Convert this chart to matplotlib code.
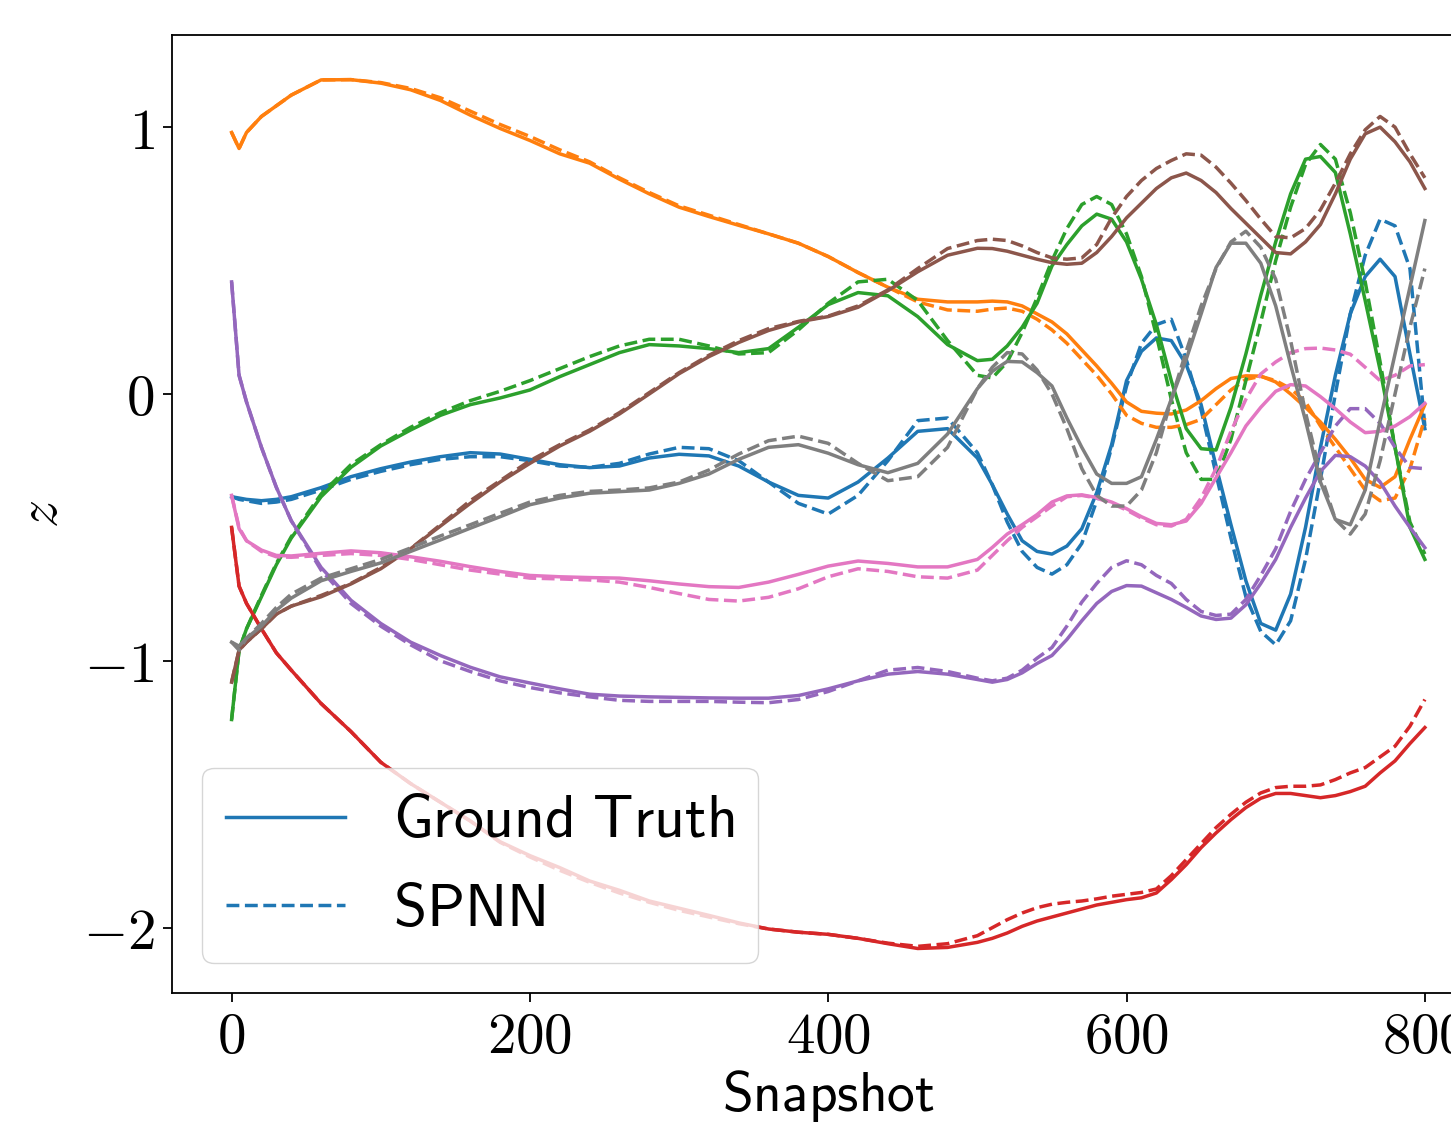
import matplotlib
matplotlib.use('Agg')
import matplotlib.pyplot as plt
from matplotlib.ticker import FuncFormatter

# snapshot index (shared by all curves)
snap = [0, 5, 10, 20, 30, 40, 60, 80, 100, 120, 140, 160, 180, 200, 220, 240, 260, 280,
        300, 320, 340, 360, 380, 400, 420, 440, 460, 480, 500, 510, 520, 530, 540, 550,
        560, 570, 580, 590, 600, 610, 620, 630, 640, 650, 660, 670, 680, 690, 700, 710,
        720, 730, 740, 750, 760, 770, 780, 790, 800]

# ground truth latent coordinates z_0 .. z_7
gt_0 = [-0.385, -0.39, -0.395, -0.40, -0.395, -0.385,
        -0.351, -0.31, -0.28, -0.255, -0.235, -0.22, -0.225, -0.245, -0.265, -0.276, -0.27, -0.24,
        -0.226, -0.232, -0.27, -0.33, -0.38, -0.39, -0.33, -0.24, -0.14, -0.13, -0.24,
        -0.34, -0.45, -0.55, -0.59, -0.60, -0.57, -0.505, -0.37, -0.19, 0.05, 0.16, 0.21, 0.20,
        0.11, -0.04, -0.27, -0.49, -0.70, -0.86, -0.885, -0.75, -0.50, -0.20, 0.07, 0.30, 0.44,
        0.505, 0.44, 0.15, -0.13]
gt_1 = [0.98, 0.92, 0.98, 1.04, 1.08, 1.12,
        1.177, 1.178, 1.165, 1.14, 1.10, 1.045, 0.995, 0.95, 0.90, 0.865, 0.805, 0.75, 0.70,
        0.665, 0.632, 0.60, 0.565, 0.515, 0.455, 0.40, 0.355, 0.345, 0.345,
        0.348, 0.345, 0.33, 0.30, 0.27, 0.225, 0.165, 0.105, 0.04, -0.03, -0.065, -0.072, -0.075,
        -0.06, -0.025, 0.02, 0.058, 0.068, 0.067, 0.045, 0.0, -0.05, -0.105, -0.17, -0.24, -0.32,
        -0.35, -0.31, -0.17, -0.04]
gt_2 = [-1.22, -0.96, -0.88, -0.76, -0.64, -0.54,
        -0.385, -0.275, -0.195, -0.135, -0.08, -0.04, -0.015, 0.015, 0.065, 0.11, 0.155, 0.185,
        0.18, 0.17, 0.155, 0.17, 0.25, 0.335, 0.38, 0.368, 0.29, 0.185, 0.125,
        0.13, 0.18, 0.25, 0.34, 0.48, 0.56, 0.63, 0.674, 0.655, 0.57, 0.43, 0.26, 0.05, -0.13,
        -0.205, -0.21, -0.05, 0.15, 0.37, 0.57, 0.75, 0.88, 0.89, 0.83, 0.60, 0.35, 0.09, -0.2,
        -0.5, -0.62]
gt_3 = [-0.5, -0.72, -0.785, -0.88, -0.97, -1.035,
        -1.16, -1.265, -1.38, -1.46, -1.53, -1.6, -1.678, -1.73, -1.775, -1.825, -1.86, -1.9,
        -1.927, -1.954, -1.982, -2.005, -2.017, -2.025, -2.04, -2.06, -2.078, -2.074, -2.055,
        -2.04, -2.02, -1.995, -1.975, -1.96, -1.945, -1.93, -1.915, -1.905, -1.895, -1.888,
        -1.87, -1.82, -1.764, -1.70, -1.645, -1.595, -1.55, -1.515, -1.497, -1.497, -1.505,
        -1.513, -1.505, -1.49, -1.47, -1.42, -1.375, -1.31, -1.25]
gt_4 = [0.42, 0.07, -0.03, -0.2, -0.35, -0.475,
        -0.65, -0.773, -0.86, -0.93, -0.98, -1.024, -1.06, -1.083, -1.105, -1.125, -1.132,
        -1.135, -1.137, -1.139, -1.14, -1.14, -1.13, -1.105, -1.075, -1.05, -1.04, -1.05, -1.07,
        -1.08, -1.07, -1.045, -1.01, -0.98, -0.92, -0.85, -0.785, -0.74, -0.718, -0.72, -0.745,
        -0.77, -0.8, -0.832, -0.845, -0.84, -0.79, -0.71, -0.62, -0.5, -0.39, -0.29, -0.23,
        -0.235, -0.27, -0.33, -0.42, -0.5, -0.576]
gt_5 = [-1.08, -0.96, -0.93, -0.88, -0.825, -0.795,
        -0.76, -0.712, -0.655, -0.58, -0.495, -0.41, -0.33, -0.26, -0.195, -0.14, -0.075, 0.0,
        0.076, 0.14, 0.193, 0.238, 0.27, 0.29, 0.325, 0.387, 0.458, 0.52, 0.546,
        0.545, 0.535, 0.52, 0.505, 0.492, 0.486, 0.49, 0.53, 0.59, 0.66, 0.715, 0.77, 0.81,
        0.828, 0.80, 0.755, 0.695, 0.64, 0.585, 0.53, 0.525, 0.57, 0.635, 0.75, 0.88, 0.975,
        1.0, 0.945, 0.87, 0.77]
gt_6 = [-0.38, -0.505, -0.55, -0.585, -0.605, -0.607,
        -0.597, -0.588, -0.595, -0.61, -0.627, -0.647, -0.665, -0.68, -0.685, -0.688, -0.69,
        -0.70, -0.712, -0.722, -0.725, -0.705, -0.676, -0.645, -0.626, -0.635, -0.648, -0.648,
        -0.62,
        -0.575, -0.525, -0.49, -0.452, -0.405, -0.382, -0.378, -0.388, -0.405, -0.43, -0.46,
        -0.485, -0.49, -0.476, -0.41, -0.314, -0.22, -0.12, -0.05, 0.01, 0.035, 0.03, -0.01,
        -0.055, -0.105, -0.145, -0.14, -0.12, -0.085, -0.035]
gt_7 = [-0.93, -0.945, -0.915, -0.87, -0.81, -0.765,
        -0.70, -0.665, -0.633, -0.59, -0.547, -0.503, -0.46, -0.415, -0.39, -0.372, -0.366,
        -0.36, -0.335, -0.30, -0.245, -0.20, -0.19, -0.222, -0.265, -0.295, -0.26, -0.15, 0.02,
        0.085, 0.122, 0.12, 0.08, 0.03, -0.09, -0.2, -0.3, -0.335, -0.335, -0.31, -0.17, -0.02,
        0.13, 0.3, 0.474, 0.565, 0.565, 0.49, 0.33, 0.11, -0.1, -0.33, -0.47, -0.49, -0.36,
        -0.1, 0.15, 0.4, 0.65]

# SPNN predictions
nn_0 = [-0.385, -0.395, -0.40, -0.41, -0.405, -0.395,
        -0.36, -0.32, -0.29, -0.265, -0.245, -0.235, -0.235, -0.25, -0.27, -0.275, -0.26,
        -0.225, -0.20, -0.205, -0.25, -0.33, -0.41, -0.45, -0.38, -0.25, -0.10, -0.09, -0.22,
        -0.34, -0.48, -0.59, -0.65, -0.675, -0.64, -0.56, -0.40, -0.20, 0.03, 0.19, 0.26, 0.28,
        0.13, -0.06, -0.30, -0.54, -0.76, -0.89, -0.94, -0.85, -0.62, -0.32, 0.0, 0.30, 0.52,
        0.655, 0.63, 0.47, -0.12]
nn_1 = [0.98, 0.92, 0.98, 1.04, 1.08, 1.12,
        1.177, 1.178, 1.167, 1.145, 1.11, 1.06, 1.01, 0.965, 0.915, 0.87, 0.81, 0.755, 0.705,
        0.67, 0.635, 0.60, 0.565, 0.515, 0.455, 0.40, 0.345, 0.315, 0.31,
        0.318, 0.322, 0.31, 0.28, 0.24, 0.19, 0.13, 0.07, 0.0, -0.08, -0.11, -0.125, -0.125,
        -0.115, -0.095, -0.04, 0.015, 0.055, 0.066, 0.05, 0.02, -0.03, -0.12, -0.2, -0.28,
        -0.36, -0.40, -0.39, -0.28, -0.09]
nn_2 = [-1.22, -0.96, -0.88, -0.755, -0.635, -0.535,
        -0.375, -0.265, -0.19, -0.125, -0.07, -0.025, 0.01, 0.05, 0.095, 0.14, 0.18, 0.205,
        0.205, 0.18, 0.15, 0.155, 0.24, 0.34, 0.42, 0.43, 0.35, 0.20, 0.07,
        0.06, 0.12, 0.23, 0.36, 0.50, 0.62, 0.71, 0.74, 0.71, 0.60, 0.44, 0.22, -0.02, -0.22,
        -0.32, -0.32, -0.17, 0.05, 0.27, 0.50, 0.70, 0.86, 0.935, 0.88, 0.68, 0.42, 0.12, -0.2,
        -0.48, -0.6]
nn_3 = [-0.5, -0.72, -0.785, -0.88, -0.97, -1.035,
        -1.16, -1.265, -1.38, -1.46, -1.53, -1.6, -1.68, -1.735, -1.785, -1.83, -1.87, -1.905,
        -1.935, -1.96, -1.985, -2.005, -2.017, -2.025, -2.04, -2.058, -2.07, -2.06, -2.03,
        -2.0, -1.97, -1.945, -1.925, -1.912, -1.905, -1.9, -1.892, -1.882, -1.875, -1.868,
        -1.855, -1.805, -1.745, -1.685, -1.625, -1.575, -1.53, -1.495, -1.475, -1.47, -1.47,
        -1.465, -1.445, -1.42, -1.4, -1.36, -1.32, -1.245, -1.145]
nn_4 = [0.42, 0.07, -0.03, -0.2, -0.35, -0.475,
        -0.66, -0.785, -0.87, -0.94, -1.0, -1.04, -1.075, -1.1, -1.12, -1.135, -1.148, -1.152,
        -1.152, -1.152, -1.155, -1.157, -1.145, -1.115, -1.075, -1.035, -1.025, -1.04, -1.065,
        -1.075, -1.065, -1.035, -0.99, -0.95, -0.87, -0.78, -0.71, -0.65, -0.625, -0.64, -0.68,
        -0.71, -0.77, -0.815, -0.83, -0.825, -0.77, -0.68, -0.58, -0.44, -0.32, -0.22, -0.12,
        -0.055, -0.055, -0.11, -0.2, -0.275, -0.28]
nn_5 = [-1.08, -0.96, -0.93, -0.88, -0.825, -0.795,
        -0.755, -0.71, -0.65, -0.58, -0.49, -0.40, -0.325, -0.25, -0.19, -0.135, -0.07, 0.005,
        0.08, 0.145, 0.2, 0.245, 0.272, 0.292, 0.33, 0.39, 0.47, 0.545, 0.575,
        0.58, 0.575, 0.555, 0.53, 0.51, 0.505, 0.51, 0.56, 0.66, 0.74, 0.80, 0.845, 0.875, 0.9,
        0.895, 0.85, 0.79, 0.725, 0.655, 0.59, 0.585, 0.62, 0.69, 0.79, 0.9, 0.99, 1.04, 1.0,
        0.9, 0.81]
nn_6 = [-0.38, -0.5, -0.55, -0.59, -0.61, -0.612,
        -0.605, -0.598, -0.605, -0.62, -0.64, -0.66, -0.675, -0.69, -0.693, -0.697, -0.705,
        -0.725, -0.748, -0.77, -0.776, -0.762, -0.73, -0.685, -0.655, -0.665, -0.685, -0.69,
        -0.66,
        -0.605, -0.55, -0.5, -0.46, -0.42, -0.385, -0.38, -0.39, -0.41, -0.435, -0.465, -0.49,
        -0.495, -0.47, -0.39, -0.28, -0.14, -0.02, 0.075, 0.12, 0.155, 0.17, 0.172, 0.165,
        0.149, 0.1, 0.05, 0.07, 0.105, 0.11]
nn_7 = [-0.93, -0.96, -0.915, -0.86, -0.80, -0.75,
        -0.69, -0.655, -0.62, -0.577, -0.532, -0.49, -0.447, -0.405, -0.38, -0.365, -0.36,
        -0.352, -0.33, -0.285, -0.225, -0.175, -0.158, -0.185, -0.26, -0.325, -0.31, -0.2, 0.02,
        0.1, 0.155, 0.15, 0.09, 0.0, -0.13, -0.28, -0.38, -0.42, -0.42, -0.36, -0.22, -0.02,
        0.16, 0.33, 0.47, 0.57, 0.61, 0.55, 0.43, 0.2, -0.07, -0.3, -0.47, -0.525, -0.45,
        -0.25, 0.0, 0.25, 0.47]

ground_truth = [gt_0, gt_1, gt_2, gt_3, gt_4, gt_5, gt_6, gt_7]
spnn = [nn_0, nn_1, nn_2, nn_3, nn_4, nn_5, nn_6, nn_7]

plt.rcParams['mathtext.fontset'] = 'cm'

fig = plt.figure(figsize=(14.51, 11.24), dpi=100)
ax = fig.add_axes([0.1185, 0.1165, 0.9046, 0.8523])

for i in range(len(ground_truth)):
    ax.plot(snap, ground_truth[i], color=f'C{i}', lw=2.5,
            label=r'$\mathsf{Ground\ Truth}$' if i == 0 else None)
    ax.plot(snap, spnn[i], '--', color=f'C{i}', lw=2.5,
            label=r'$\mathsf{SPNN}$' if i == 0 else None)

ax.set_xlim(-40, 840)
ax.set_ylim(-2.245, 1.345)
ax.set_xticks([0, 200, 400, 600, 800])
ax.set_yticks([-2, -1, 0, 1])
ax.xaxis.set_major_formatter(FuncFormatter(lambda v, p: r'$%d$' % v))
ax.yaxis.set_major_formatter(FuncFormatter(lambda v, p: r'$%d$' % v))
ax.tick_params(labelsize=41, length=6.5, width=1.3, pad=6)
for s in ax.spines.values():
    s.set_linewidth(1.3)

ax.set_xlabel(r'$\mathsf{Snapshot}$', fontsize=40, labelpad=2)
ax.set_ylabel(r'$z$', fontsize=40, labelpad=10)
ax.legend(loc='lower left', fontsize=43)

fig.savefig('out.png', dpi=100)
